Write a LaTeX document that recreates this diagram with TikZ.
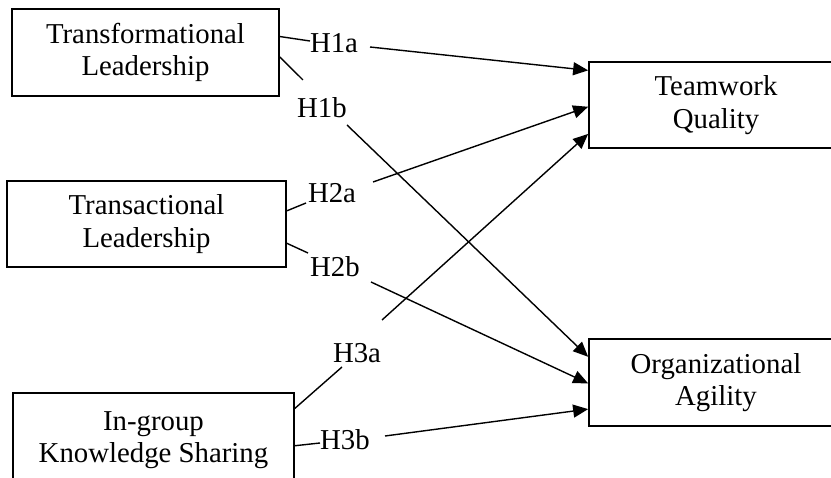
\documentclass[tikz,border=0pt]{standalone}
\usepackage{fontspec}
\setmainfont{Liberation Serif}
\usetikzlibrary{arrows.meta,calc}
\begin{document}
\begin{tikzpicture}[x=1pt,y=-1pt,
  box/.style={draw,line width=1.7pt,rectangle,align=center,inner sep=0pt,
    font=\fontsize{28.8}{32.5}\selectfont},
  hlab/.style={inner sep=0pt,font=\fontsize{28.8}{32}\selectfont},
  seg/.style={line width=1.4pt},
  arr/.style={line width=1.4pt,-{Triangle[length=15pt,width=13pt]}}]
\useasboundingbox (0,0) rectangle (831,478);
\clip (0,0) rectangle (831,478);
% boxes
\node[box,minimum width=267pt,minimum height=87pt] (tf) at (145.5,52.5) {Transformational\\Leadership};
\node[box,minimum width=279pt,minimum height=86pt] (ta) at (146.5,224) {Transactional\\Leadership};
\node[box,minimum width=281pt,minimum height=94pt] (ks) at (153.5,440) {In-group\\Knowledge Sharing};
\node[box,minimum width=254pt,minimum height=86pt] (tq) at (716,105) {Teamwork\\Quality};
\node[box,minimum width=254pt,minimum height=87pt] (oa) at (716,382.5) {Organizational\\Agility};
% labels
\node[hlab] (h1a) at (334,43) {H1a};
\node[hlab] (h1b) at (322,108) {H1b};
\node[hlab] (h2a) at (332,193) {H2a};
\node[hlab] (h2b) at (335,267) {H2b};
\node[hlab] (h3a) at (357,353) {H3a};
\node[hlab] (h3b) at (345,440) {H3b};
% label-side endpoints
\coordinate (h1a-in) at (310,41);
\coordinate (h1a-out) at (370,47);
\coordinate (h1b-in) at (303,80);
\coordinate (h1b-out) at (347,125);
\coordinate (h2a-in) at (306,203);
\coordinate (h2a-out) at (373,182);
\coordinate (h2b-in) at (308,253);
\coordinate (h2b-out) at (371,282);
\coordinate (h3a-in) at (342,367);
\coordinate (h3a-out) at (382,320);
\coordinate (h3b-in) at (320,443);
\coordinate (h3b-out) at (385,436);
% H1
\draw[seg] ($(tf.north east)!0.32!(tf.south east)$) -- (h1a-in);
\draw[arr] (h1a-out) -- ($(tq.north west)!0.105!(tq.south west)$);
\draw[seg] ($(tf.north east)!0.55!(tf.south east)$) -- (h1b-in);
\draw[arr] (h1b-out) -- ($(oa.north west)!0.21!(oa.south west)$);
% H2
\draw[seg] ($(ta.north east)!0.35!(ta.south east)$) -- (h2a-in);
\draw[arr] (h2a-out) -- ($(tq.north west)!0.52!(tq.south west)$);
\draw[seg] ($(ta.north east)!0.72!(ta.south east)$) -- (h2b-in);
\draw[arr] (h2b-out) -- ($(oa.north west)!0.51!(oa.south west)$);
% H3
\draw[seg] ($(ks.north east)!0.17!(ks.south east)$) -- (h3a-in);
\draw[arr] (h3a-out) -- ($(tq.north west)!0.83!(tq.south west)$);
\draw[seg] ($(ks.north east)!0.56!(ks.south east)$) -- (h3b-in);
\draw[arr] (h3b-out) -- ($(oa.north west)!0.80!(oa.south west)$);
\end{tikzpicture}
\end{document}
